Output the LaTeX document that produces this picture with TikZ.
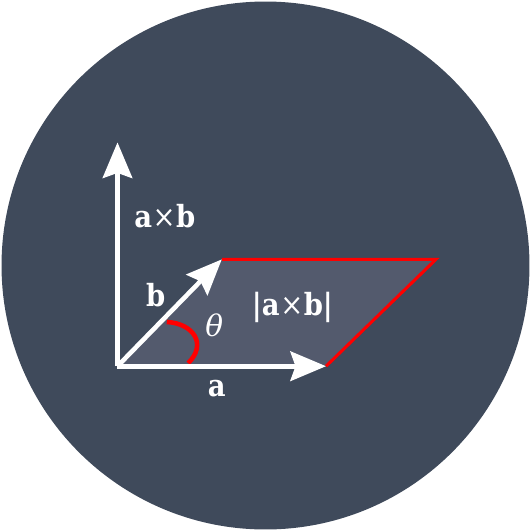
\documentclass[tikz,border=0pt]{standalone}
\usepackage{fontspec}
\setmainfont{DejaVu Serif Condensed}
\newfontfamily\thetafont{DejaVu Serif}
\usetikzlibrary{arrows.meta}
\definecolor{bgslate}{HTML}{3F4A5B}
\definecolor{areafill}{HTML}{535A6D}
\definecolor{edgered}{HTML}{FF0000}
\newcommand{\crossx}{{\mdseries\kern0.5pt×\kern0.5pt}}
\tikzset{
  vecarrow/.style={draw=white, line width=4.5pt, -{Stealth[length=35pt, width=29pt, inset=5pt]}},
  rededge/.style={draw=edgered, line width=3pt, line join=miter},
  lbl/.style={text=white, inner sep=0pt, anchor=base, font=\fontsize{30}{34}\selectfont\bfseries},
  anglelbl/.style={text=white, inner sep=0pt, anchor=base, font=\fontsize{29}{34}\selectfont\thetafont\itshape}
}
\begin{document}
\begin{tikzpicture}[x=1pt,y=-1pt]
  \useasboundingbox (0,0) rectangle (522,522);
  \fill[bgslate] (261,261) circle (259.5);
  \coordinate (O) at (115.5,360);
  \coordinate (A) at (320.5,360);
  \coordinate (B) at (218,255);
  \coordinate (C) at (428.5,255);
  \coordinate (Z) at (115.5,140);
  \coordinate (T0) at (164,316.5);
  \coordinate (T1) at (185,357);
  \fill[areafill] (O) -- (A) -- (C) -- (B) -- cycle;
  \draw[rededge] (B) -- (C) -- (A);
  \draw[edgered, line width=4.5pt] (T0) .. controls (190,318) and (204,338) .. (T1);
  \draw[vecarrow] (O) -- (Z);
  \draw[vecarrow] (O) -- (A);
  \draw[vecarrow] (O) -- (B);
  \node[lbl] (lcross) at (162,224) {a\crossx b};
  \node[lbl] (lb) at (153,301.5) {b};
  \node[anglelbl] (ltheta) at (210.5,331) {θ};
  \node[lbl] (larea) at (287.5,310) {|a\crossx b|};
  \node[lbl] (la) at (213,390) {a};
\end{tikzpicture}
\end{document}
